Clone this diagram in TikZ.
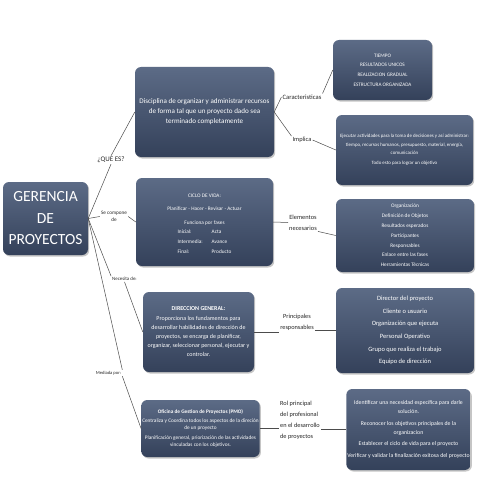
\documentclass[tikz,border=0pt]{standalone}
\usepackage{fontspec}
\setmainfont{Carlito}
\usetikzlibrary{shadows}
\definecolor{boxtop}{HTML}{5C6B86}
\definecolor{boxbot}{HTML}{34415A}
\newcommand{\fsz}[2]{\fontsize{#1}{#2}\selectfont}
\begin{document}
\begin{tikzpicture}[x=1pt,y=-1pt,
    panel/.style={rounded corners=6pt, top color=boxtop, bottom color=boxbot, text=white,
        align=center, inner sep=1pt, drop shadow={shadow xshift=1.2pt, shadow yshift=-1.5pt, opacity=.45}},
    tag/.style={align=center, text=black!85, inner sep=1pt},
    link/.style={draw=black!70, line width=0.5pt}]
    \useasboundingbox[fill=white] (0,0) rectangle (495,495);

    % Root
    \node[panel, minimum width=85, minimum height=73, font=\fsz{15.5}{21.5}] (root) at (45.5,218.5)
        {GERENCIA\\DE\\PROYECTOS};

    % Boxes, middle column
    \node[panel, minimum width=139, minimum height=90, font=\fsz{7.1}{10}] (what) at (204.5,112)
        {Disciplina de organizar y administrar recursos\\de forma tal que un proyecto dado sea\\terminado completamente};
    \node[panel, minimum width=137, minimum height=88, font=\fsz{5.3}{10}] (cycle) at (204.5,222) {};
    \node[text=white, align=center, font=\fsz{5.3}{10}] (cyclet) at (204.5,225)
        {CICLO DE VIDA:\\[3.5pt]Planificar - Hacer - Revisar - Actuar\\[3.5pt]Funciona por fases\\
        \begin{tabular}{@{}l@{\hspace{9pt}}l@{}}Inicial: & Acta\\ Intermedia: & Avance\\ Final: & Producto\end{tabular}};
    \node[panel, minimum width=111, minimum height=80, font=\fsz{6}{9}] (dir) at (198.5,332)
        {\textbf{DIRECCION GENERAL:}\\[1pt]Proporciona los fundamentos para\\desarrollar habilidades de dirección de\\proyectos, se encarga de planificar,\\organizar, seleccionar personal, ejecutar y\\controlar.};
    \node[panel, minimum width=115, minimum height=57, font=\fsz{5.3}{6.8}] (pmo) at (200.5,428.5)
        {\textbf{Oficina de Gestion de Proyectos (PMO)}\\[2.5pt]Centraliza y Coordina todos los aspectos de la direción\\de un proyecto\\[3pt]Planificación general, priorización de las actividades\\vinculadas con los objetivos.};

    % Boxes, right column
    \node[panel, minimum width=99, minimum height=60, font=\fsz{5.2}{9.6}] (traits) at (382.5,70)
        {TIEMPO\\RESULTADOS UNICOS\\REALIZACION GRADUAL\\ESTRUCTURA ORGANIZADA};
    \node[panel, minimum width=137, minimum height=70, font=\fsz{4.9}{8.5}] (acts) at (404.5,150)
        {Ejecutar actividades para la toma de decisiones y así administrar:\\tiempo, recursos humanos, presupuesto, material, energía,\\comunicación\\[1.5pt]Todo esto para lograr un objetivo};
    \node[panel, minimum width=138, minimum height=73, font=\fsz{5.3}{9.8}] (elems) at (405,235.5)
        {Organización\\Definición de Objetos\\Resultados esperados\\Participantes\\Responsables\\Enlace entre las fases\\Herramientas Técnicas};
    \node[panel, minimum width=138, minimum height=85, font=\fsz{6.5}{12.6}] (resp) at (405,330.5)
        {Director del proyecto\\Cliente o usuario\\Organización que ejecuta\\Personal Operativo\\Grupo que realiza el trabajo\\Equipo de dirección};
    \node[panel, minimum width=123, minimum height=81, font=\fsz{5.8}{9}] (roles) at (408.5,429.5)
        {Identificar una necesidad específica para darle\\solución.\\[2.5pt]Reconocer los objetivos principales de la\\organizacion\\[2pt]Establecer el ciclo de vida para el proyecto\\[3pt]Verificar y validar la finalización exitosa del proyecto};

    % Labels
    \node[tag, font=\fsz{7}{8}] (qlbl) at (111,160) {¿QUE ES?};
    \node[tag, font=\fsz{5.2}{7.5}] (comp) at (114,216.5) {Se compone\\de};
    \node[tag, font=\fsz{4.9}{6}] (need) at (124.5,279) {Necesita de:};
    \node[tag, font=\fsz{4.6}{6}] (med) at (108.5,373) {Mediada por:};
    \node[tag, font=\fsz{6.6}{7}] (char) at (302,97) {Caracteristicas};
    \node[tag, font=\fsz{6.4}{7}] (impl) at (302,140) {Implica};
    \node[tag, font=\fsz{6.4}{11}] (elemlbl) at (303,222.5) {Elementos\\necesarios};
    \node[tag, font=\fsz{6.3}{11}] (resplbl) at (297,322.5) {Principales\\responsables};
    \node[tag, align=left, font=\fsz{6.3}{11}] (rollbl) at (300,420.5) {Rol principal\\del profesional\\en el desarrollo\\de proyectos};

    % Connectors from the root
    \draw[link] (root.east) -- (qlbl.south);
    \draw[link] (qlbl.north) -- (what.west);
    \draw[link] (root.east) -- (comp.west);
    \draw[link] (comp.east) -- (cycle.west);
    \draw[link] (root.east) -- (need.north west);
    \draw[link] (need.south) -- (dir.west);
    \draw[link] (root.east) -- (med.north east);
    \draw[link] (med.south east) -- (pmo.west);

    % Connectors to the right column
    \draw[link] (what.east) -- (char.west);
    \draw[link] (char.north east) -- (traits.west);
    \draw[link] (what.east) -- (impl.north west);
    \draw[link] (impl.east) -- (acts.west);
    \draw[link] (cycle.east) -- (elemlbl.west);
    \draw[link] (elemlbl.south east) -- (elems.west);
    \draw[link] (dir.east) -- (dir.east -| resplbl.west);
    \draw[link] (resplbl.east |- resp.west) -- (resp.west);
    \draw[link] (pmo.east) -- (pmo.east -| rollbl.west);
    \draw[link] (rollbl.east |- roles.west) -- (roles.west);
\end{tikzpicture}
\end{document}
